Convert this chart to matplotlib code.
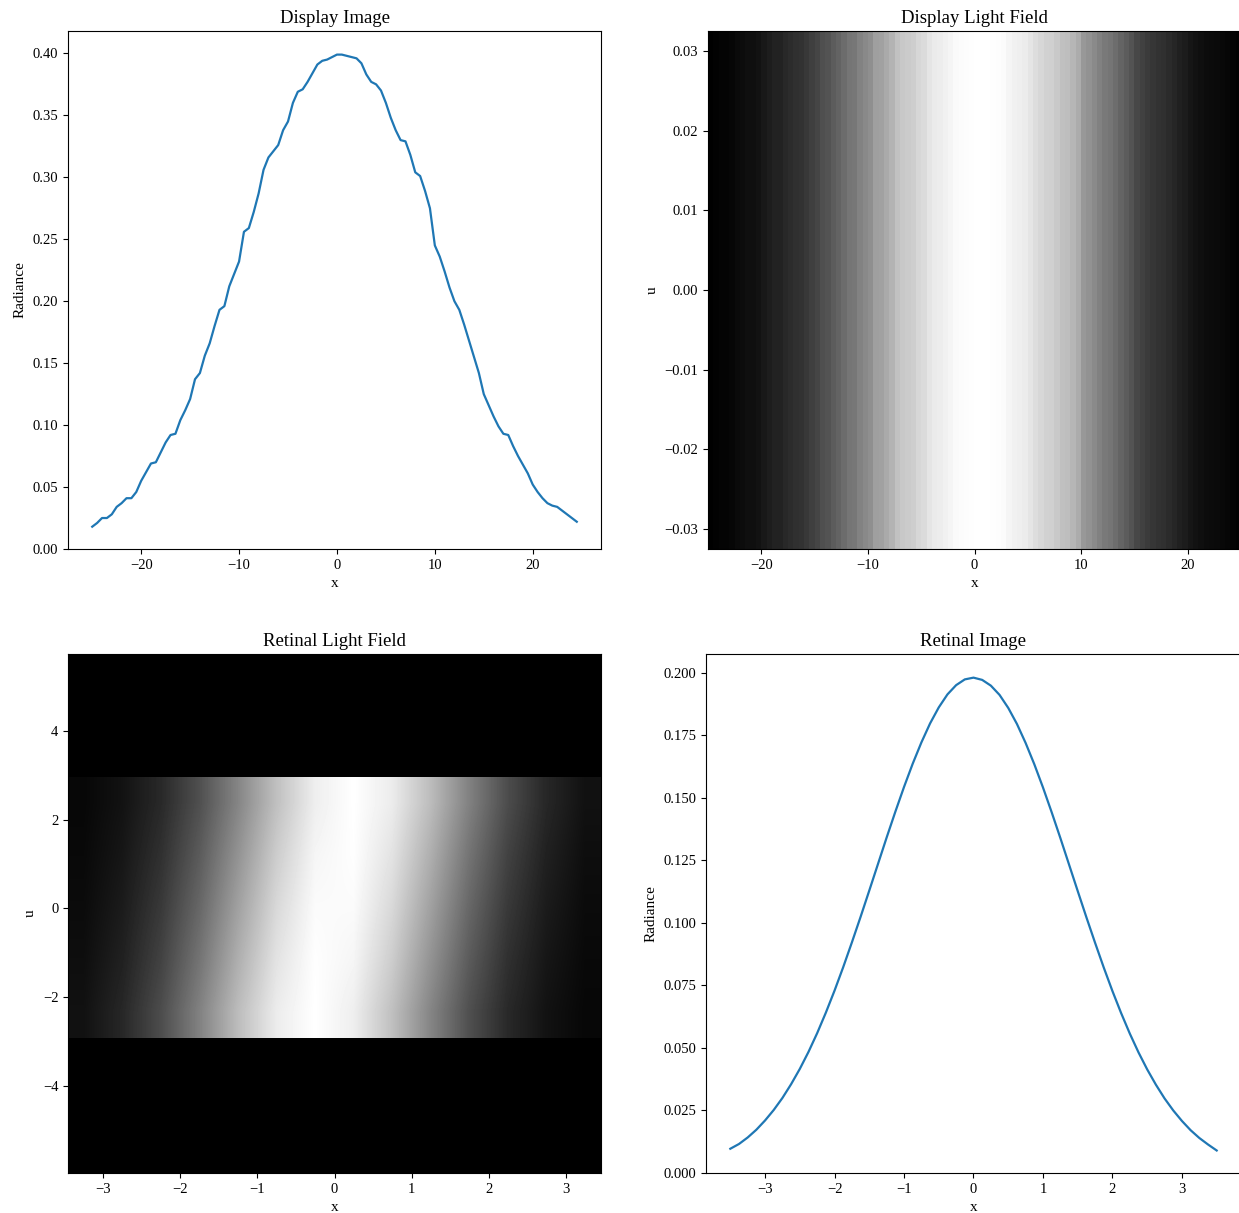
import matplotlib
matplotlib.use("Agg")
import matplotlib.pyplot as plt
import numpy as np

plt.rcParams["font.family"] = ["Liberation Serif", "DejaVu Serif"]
plt.rcParams["font.size"] = 10.5

# Display image: radiance sampled every 0.5 along x (-25 .. 24.5)
display_x = np.arange(-25, 25, 0.5)
display_radiance = [
    0.018, 0.021, 0.025, 0.025, 0.028, 0.034, 0.037, 0.041, 0.041, 0.046,
    0.055, 0.062, 0.069, 0.070, 0.078, 0.086, 0.092, 0.093, 0.104, 0.112,
    0.121, 0.137, 0.142, 0.156, 0.166, 0.180, 0.193, 0.196, 0.212, 0.222,
    0.232, 0.256, 0.259, 0.272, 0.287, 0.306, 0.316, 0.321, 0.326, 0.338,
    0.345, 0.360, 0.369, 0.371, 0.377, 0.384, 0.391, 0.394, 0.395, 0.397,
    0.399, 0.399, 0.398, 0.397, 0.396, 0.392, 0.383, 0.377, 0.375, 0.370,
    0.360, 0.348, 0.338, 0.330, 0.329, 0.318, 0.304, 0.301, 0.289, 0.275,
    0.245, 0.236, 0.224, 0.211, 0.200, 0.193, 0.181, 0.168, 0.155, 0.142,
    0.125, 0.116, 0.107, 0.099, 0.093, 0.092, 0.083, 0.075, 0.068, 0.061,
    0.052, 0.046, 0.041, 0.037, 0.035, 0.034, 0.031, 0.028, 0.025, 0.022,
]

# Display light field spans u in this range (same radiance for every u)
field_u = (-0.0325, 0.0325)

# Retinal light field: sheared band between u = -2.93 and 2.93 (rows top -> bottom)
retinal_band_u = (-2.93, 2.93)
retinal_field = [
    [0.028, 0.072, 0.161, 0.312, 0.521, 0.751, 0.933, 1.000, 0.924, 0.737, 0.507, 0.300, 0.154, 0.068],
    [0.035, 0.088, 0.190, 0.357, 0.575, 0.801, 0.961, 0.995, 0.888, 0.684, 0.454, 0.260, 0.129, 0.055],
    [0.044, 0.107, 0.224, 0.404, 0.630, 0.847, 0.982, 0.982, 0.847, 0.630, 0.404, 0.224, 0.107, 0.044],
    [0.055, 0.129, 0.260, 0.454, 0.684, 0.888, 0.995, 0.961, 0.801, 0.575, 0.357, 0.190, 0.088, 0.035],
    [0.068, 0.154, 0.300, 0.507, 0.737, 0.924, 1.000, 0.933, 0.751, 0.521, 0.312, 0.161, 0.072, 0.028],
]

# Retinal image, sampled every 0.125 along x
retinal_x = np.arange(-3.5, 3.51, 0.125)
retinal_radiance = [
    0.0097, 0.0116, 0.0142, 0.0173, 0.0210, 0.0252, 0.0300, 0.0355,
    0.0416, 0.0484, 0.0559, 0.0641, 0.0729, 0.0823, 0.0922, 0.1024,
    0.1129, 0.1235, 0.1341, 0.1444, 0.1543, 0.1636, 0.1721, 0.1797,
    0.1861, 0.1913, 0.1950, 0.1973, 0.1980, 0.1971, 0.1948, 0.1911,
    0.1859, 0.1795, 0.1719, 0.1634, 0.1541, 0.1442, 0.1339, 0.1233,
    0.1127, 0.1022, 0.0920, 0.0821, 0.0727, 0.0639, 0.0557, 0.0482,
    0.0414, 0.0353, 0.0298, 0.0250, 0.0208, 0.0171, 0.0140, 0.0114,
    0.0090,
]

W, H = 1239, 1213
fig = plt.figure(figsize=(W / 100, H / 100), dpi=100)


def axes_px(left, top, right, bottom):
    return fig.add_axes([left / W, 1 - bottom / H, (right - left) / W, (bottom - top) / H])


# Display Image
ax1 = axes_px(68, 31, 601, 549)
ax1.plot(display_x, display_radiance, color="#1f77b4", linewidth=1.6)
ax1.set_ylim(bottom=0)
ax1.set_title("Display Image", fontsize=13.5)
ax1.set_xlabel("x", fontsize=11)
ax1.set_ylabel("Radiance", fontsize=11)

# Display Light Field
ax2 = axes_px(708, 31, 1241, 549)
ax2.imshow([display_radiance], cmap="gray", aspect="auto", interpolation="nearest",
           extent=(-25, 25, field_u[0], field_u[1]))
ax2.set_title("Display Light Field", fontsize=13.5)
ax2.set_xlabel("x", fontsize=11)
ax2.set_ylabel("u", fontsize=11)

# Retinal Light Field
ax3 = axes_px(68, 654, 601, 1173)
ax3.set_facecolor("black")
ax3.imshow(retinal_field, cmap="gray", aspect="auto", interpolation="bilinear",
           vmin=0, vmax=1, extent=(-3.5, 3.5, retinal_band_u[0], retinal_band_u[1]))
ax3.set_xlim(-3.46, 3.46)
ax3.set_ylim(-5.96, 5.73)
ax3.set_title("Retinal Light Field", fontsize=13.5)
ax3.set_xlabel("x", fontsize=11)
ax3.set_ylabel("u", fontsize=11)

# Retinal Image
ax4 = axes_px(706, 654, 1241, 1173)
ax4.plot(retinal_x, retinal_radiance, color="#1f77b4", linewidth=1.6)
ax4.set_ylim(bottom=0)
ax4.set_title("Retinal Image", fontsize=13.5)
ax4.set_xlabel("x", fontsize=11)
ax4.set_ylabel("Radiance", fontsize=11)

fig.savefig("out.png", dpi=100)
